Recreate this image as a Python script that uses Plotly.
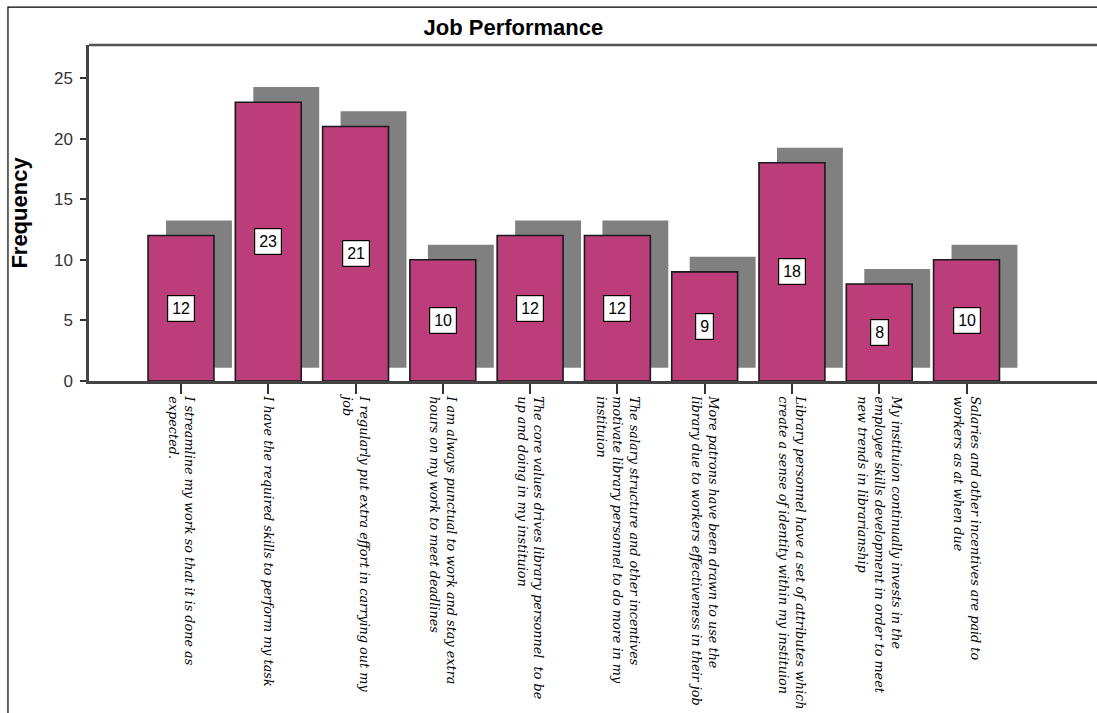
import plotly.graph_objects as go

categories = [
    "I streamline my work so that it is done as<br>expected.",
    "I have the required skills to perform my task",
    "I regularly put extra effort in carrying out my<br>job",
    "I am always punctual to work and stay extra<br>hours on my work to meet deadlines",
    "The core values drives library personnel  to be<br>up and doing in my instituion",
    "The salary structure and other incentives<br>motivate library personnel to do more in my<br>instituion",
    "More patrons have been drawn to use the<br>library due to workers effectiveness in their job",
    "Library personnel have a set of attributes which<br>create a sense of identity within my instituion",
    "My instituion continually invests in the<br>employee skills development in order to meet<br>new trends in librarianship",
    "Salaries and other incentives are paid to<br>workers as at when due",
]
frequency = [12, 23, 21, 10, 12, 12, 9, 18, 8, 10]
y_ticks = [0, 5, 10, 15, 20, 25]

xpos = list(range(len(categories)))
BAR_W = 0.755
SH_DX = 0.206
SH_BASE = 1.1
SH_TOP = 1.25

fig = go.Figure()
# drop shadow
fig.add_trace(go.Bar(
    x=xpos, y=[v + SH_TOP - SH_BASE for v in frequency], base=SH_BASE,
    width=BAR_W, offset=-BAR_W / 2 + SH_DX,
    marker=dict(color="#808080", line=dict(width=0)),
    hoverinfo="skip", showlegend=False,
))
# main bars
fig.add_trace(go.Bar(
    x=xpos, y=frequency, width=BAR_W, offset=-BAR_W / 2,
    marker=dict(color="#BB3E7B", line=dict(color="#1a1a1a", width=1.6)),
    showlegend=False,
))

for xi, v in zip(xpos, frequency):
    fig.add_annotation(
        x=xi, y=v / 2, text=str(v), showarrow=False,
        font=dict(family="Arial, Liberation Sans", size=16, color="black"),
        bgcolor="white", bordercolor="black", borderwidth=1.2, borderpad=4,
    )

fig.update_layout(
    width=1097, height=713,
    margin=dict(l=89, r=0, t=45, b=332),
    paper_bgcolor="white", plot_bgcolor="white",
    barmode="overlay",
    title=dict(text="<b>Job Performance</b>", x=0.468, xanchor="center",
               y=0.962, yanchor="middle",
               font=dict(family="Arial, Liberation Sans", size=22, color="black")),
    shapes=[
        dict(type="rect", xref="paper", yref="paper", x0=-0.0804, x1=1.01,
             y0=-1.05, y1=1.113, line=dict(color="black", width=1.2), layer="below"),
        dict(type="line", xref="paper", yref="paper", x0=0, x1=1.01, y0=1, y1=1,
             line=dict(color="#555555", width=2.5)),
    ],
)

fig.update_xaxes(
    tickmode="array", tickvals=xpos, ticktext=categories,
    range=[-1.054, 10.495], showgrid=False, zeroline=False,
    showline=True, linecolor="#444444", linewidth=2.5,
    ticks="outside", ticklen=10, tickwidth=2, tickcolor="#333333",
    tickangle=90,
    tickfont=dict(family="DejaVu Serif", size=12.8,
                  color="black", style="italic"),
)
fig.update_yaxes(
    range=[0, 27.72], tickvals=y_ticks, showgrid=False, zeroline=False,
    showline=True, linecolor="#444444", linewidth=2.5,
    ticks="outside", ticklen=6, tickwidth=2, tickcolor="#333333",
    ticklabelstandoff=4,
    tickfont=dict(family="Arial, Liberation Sans", size=17, color="#333333"),
    title=dict(text="<b>Frequency</b>", standoff=21,
               font=dict(family="Arial, Liberation Sans", size=22, color="black")),
)

fig.write_html("out.html")
